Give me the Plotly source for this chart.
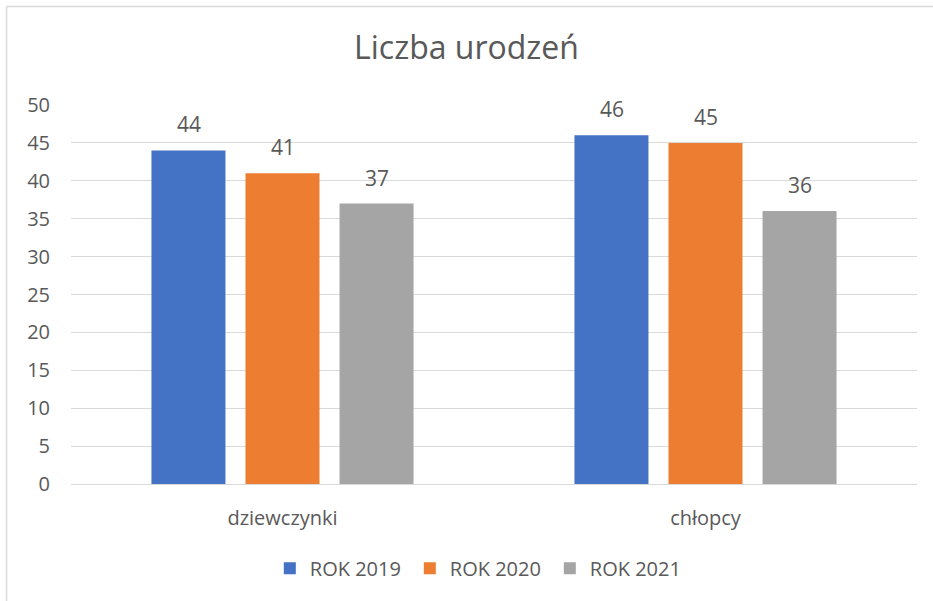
import plotly.graph_objects as go

categories = ["dziewczynki", "chłopcy"]
series_names = ["ROK 2019", "ROK 2020", "ROK 2021"]
values_2019 = [44, 46]
values_2020 = [41, 45]
values_2021 = [37, 36]
series_values = [values_2019, values_2020, values_2021]
colors = ["#4472C4", "#ED7D31", "#A5A5A5"]
tick_vals = [0, 5, 10, 15, 20, 25, 30, 35, 40, 45, 50]

FONT = "Open Sans"
TXT = "#595959"

fig = go.Figure()
for name, vals, col in zip(series_names, series_values, colors):
    fig.add_trace(go.Bar(
        x=categories, y=vals, name=name, marker_color=col,
        marker_line_width=0,
    ))

# data labels above bars
offsets = [-94, 0, 94]
for vals, off in zip(series_values, offsets):
    for cat, v in zip(categories, vals):
        fig.add_annotation(x=cat, y=v, text=str(v), showarrow=False,
                           xshift=off, yshift=26, yanchor="middle",
                           font=dict(family=FONT, size=21, color=TXT))

fig.update_layout(
    width=933, height=601,
    paper_bgcolor="white", plot_bgcolor="white",
    margin=dict(l=71, r=16, t=105, b=117, autoexpand=False),
    barmode="group", bargap=0.333, bargroupgap=0.213,
    title=dict(text="Liczba urodzeń", x=0.5, xanchor="center",
               yref="container", y=1 - 48 / 601, yanchor="middle",
               font=dict(family=FONT, size=32, color=TXT)),
    font=dict(family=FONT, size=20, color=TXT),
    showlegend=True,
    legend=dict(orientation="h", x=0.235, xanchor="left", y=-0.222, yanchor="middle",
                font=dict(family=FONT, size=20, color=TXT), itemwidth=30,
                entrywidth=95, entrywidthmode="pixels",
                traceorder="normal"),
    yaxis=dict(range=[0, 50], tickvals=tick_vals, showgrid=True, gridcolor="#D9D9D9",
               gridwidth=1, zeroline=False, showline=False, ticks="",
               ticklabelstandoff=20, automargin=False,
               tickfont=dict(family=FONT, size=20, color=TXT)),
    xaxis=dict(showline=True, linecolor="#D9D9D9", linewidth=1, ticks="",
               automargin=False,
               tickfont=dict(family=FONT, size=20, color=TXT), ticklabelstandoff=16),
    shapes=[
        dict(type="line", xref="paper", yref="paper", x0=-0.0762, x1=1.2, y0=1.26, y1=1.26,
             line=dict(color="#D9D9D9", width=1.5)),
        dict(type="line", xref="paper", yref="paper", x0=-0.0762, x1=-0.0762, y0=-0.5, y1=1.26,
             line=dict(color="#D9D9D9", width=1.5)),
    ],
)

fig.write_html("out.html", config={"displayModeBar": False},
               post_script="document.body.style.margin='0';")
